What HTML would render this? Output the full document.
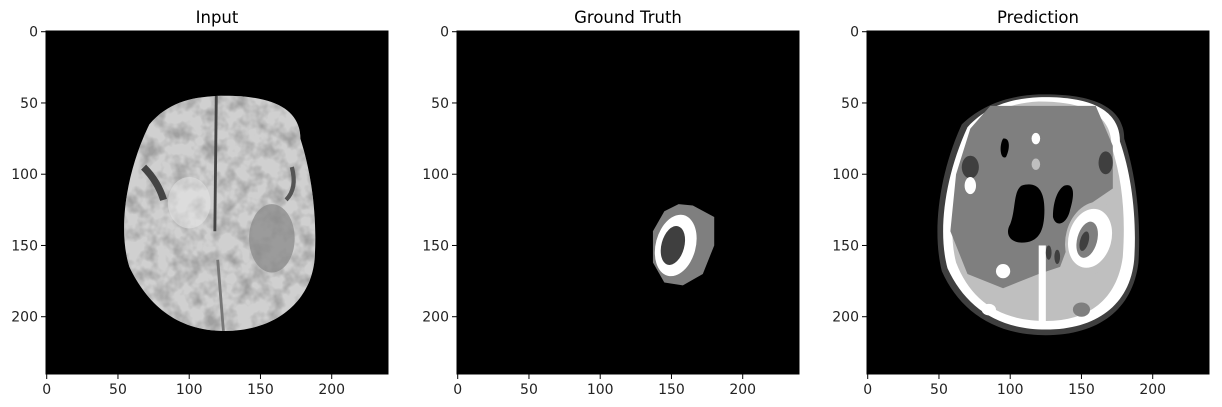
<!DOCTYPE html>
<html><head><meta charset="utf-8"><style>
body{margin:0;background:#fff;}
svg{display:block;font-family:"DejaVu Sans","Liberation Sans",sans-serif;}
</style></head><body>
<svg id="fig" width="1222" height="407" viewBox="0 0 1222 407" xmlns="http://www.w3.org/2000/svg">
<defs>
<clipPath id="brainIn"><path d="M120 45 C160 44 178 55 178 75 C186 100 190 130 188 160 C185 190 160 210 125 210 C90 210 70 190 58 165 C50 140 55 100 72 65 C85 50 100 46 120 45 Z"/></clipPath>
<filter id="tex"><feTurbulence type="fractalNoise" baseFrequency="0.09" numOctaves="3" seed="5"/><feColorMatrix type="matrix" values="0 0 0 0 0.35  0 0 0 0 0.35  0 0 0 0 0.35  0 0 0 -2.4 1.45"/></filter>
</defs>
</svg>
<script>
const panelTitles=["Input","Ground Truth","Prediction"];
const xTicks=[0,50,100,150,200];
const yTicks=[0,50,100,150,200];
const imgSize=240;
const panelX=[46,457,867];
const top0=31, S=342/240;
const svg=document.getElementById('fig');
const NS='http://www.w3.org/2000/svg';
function mk(t,a,p){const e=document.createElementNS(NS,t);for(const k in a)e.setAttribute(k,a[k]);(p||svg).appendChild(e);return e;}
const contents=[
`<path d="M120 45 C160 44 178 55 178 75 C186 100 190 130 188 160 C185 190 160 210 125 210 C90 210 70 190 58 165 C50 140 55 100 72 65 C85 50 100 46 120 45 Z" fill="#d0d0d0"/>
<g clip-path="url(#brainIn)"><rect x="40" y="40" width="160" height="180" filter="url(#tex)"/>
<ellipse cx="158" cy="145" rx="16" ry="24" fill="#8a8a8a" opacity="0.75"/>
<line x1="119" y1="45" x2="118" y2="140" stroke="#444" stroke-width="2"/>
<line x1="120" y1="160" x2="124" y2="210" stroke="#777" stroke-width="2"/>
<path d="M68 95 Q78 105 82 118" stroke="#444" stroke-width="5" fill="none"/>
<path d="M172 95 Q176 110 168 118" stroke="#555" stroke-width="3" fill="none"/>
<ellipse cx="100" cy="120" rx="15" ry="18" fill="#e8e8e8" opacity="0.5"/></g>`,
`<path d="M155 121 L165 122 L180 130 L180 150 L172 170 L158 178 L145 176 L137 162 L137 140 L145 126 Z" fill="#7f7f7f"/>
<ellipse cx="153" cy="150" rx="14" ry="22" transform="rotate(15 153 150)" fill="#fff"/>
<ellipse cx="151" cy="150" rx="8" ry="14" transform="rotate(15 151 150)" fill="#3f3f3f"/>`,
`<path d="M120 44 C162 43 180 55 180 75 C188 100 192 130 190 162 C186 195 162 213 125 213 C88 213 64 195 52 168 C45 140 50 100 66 65 C82 50 100 45 120 44 Z" fill="#3f3f3f"/>
<path d="M120 46 C160 45 177 57 177 77 C185 100 189 130 187 160 C184 192 160 209 125 209 C90 209 68 192 56 166 C49 140 54 102 70 67 C84 52 100 47 120 46 Z" fill="#fff"/>
<path d="M120 49 C156 49 171 60 171 80 C179 105 181 130 179 158 C175 188 155 203 125 203 C92 203 72 188 62 162 C56 138 60 104 74 70 C86 56 100 50 120 49 Z" fill="#bfbfbf"/>
<path d="M86 52 L160 52 L172 80 L172 110 L150 125 L135 165 L120 170 L95 180 L70 170 L58 140 L62 100 L72 68 Z" fill="#7f7f7f"/>
<path d="M108 108 C118 105 124 110 124 125 C124 140 120 148 108 148 C100 148 96 142 100 135 C104 125 102 112 108 108 Z" fill="#000"/>
<path d="M138 108 C144 106 146 112 142 125 C140 135 132 138 130 130 C130 118 134 110 138 108 Z" fill="#000"/>
<path d="M95 75 C100 74 100 82 97 88 C93 90 92 80 95 75 Z" fill="#000"/>
<ellipse cx="72" cy="95" rx="6" ry="8" fill="#3f3f3f"/>
<ellipse cx="167" cy="92" rx="5" ry="8" fill="#3f3f3f"/>
<ellipse cx="72" cy="108" rx="4" ry="6" fill="#fff"/>
<ellipse cx="118" cy="75" rx="3" ry="4" fill="#fff"/>
<ellipse cx="118" cy="93" rx="3" ry="4" fill="#bfbfbf"/>
<ellipse cx="158" cy="145" rx="19" ry="26" transform="rotate(15 158 145)" fill="#bfbfbf"/>
<ellipse cx="156" cy="145" rx="15" ry="21" transform="rotate(15 156 145)" fill="#fff"/>
<ellipse cx="154" cy="146" rx="7" ry="13" transform="rotate(15 154 146)" fill="#7f7f7f"/>
<ellipse cx="152" cy="147" rx="3" ry="7" transform="rotate(15 152 147)" fill="#3f3f3f"/>
<rect x="120" y="150" width="5" height="55" fill="#fff"/>
<ellipse cx="127" cy="155" rx="2" ry="5" fill="#3f3f3f"/>
<ellipse cx="133" cy="158" rx="2" ry="5" fill="#3f3f3f"/>
<ellipse cx="95" cy="168" rx="5" ry="5" fill="#fff"/>
<ellipse cx="85" cy="195" rx="5" ry="4" fill="#fff"/>
<ellipse cx="150" cy="195" rx="6" ry="5" fill="#7f7f7f"/>`
];
panelTitles.forEach((t,i)=>{
  const X=panelX[i];
  const g=mk('g',{transform:`translate(${X},${top0})`});
  
  
  const bg=mk('rect',{x:0,y:0,width:342,height:343,fill:'#000'},g);
  
  
  const img=mk('g',{transform:`scale(${S}) translate(0.5,0.5)`},g);
  
  
  img.innerHTML=contents[i];
  const fr=mk('rect',{x:0,y:0,width:342,height:343,fill:'none',stroke:'#000','stroke-width':1},g);
  
  
  const tt=mk('text',{x:171,y:-8,'text-anchor':'middle','font-size':16.5,fill:'#000'},g);
  tt.textContent=t;
  
  
  xTicks.forEach(v=>{
    const px=(v+0.5)*S;
    const l=mk('line',{x1:px,y1:343,x2:px,y2:348,stroke:'#000'},g);
    
    
    const tx=mk('text',{x:px,y:363,'text-anchor':'middle','font-size':14,fill:'#222'},g);
    tx.textContent=v;
    
    
  });
  yTicks.forEach(v=>{
    const py=(v+0.5)*S;
    const l=mk('line',{x1:-5,y1:py,x2:0,y2:py,stroke:'#000'},g);
    
    
    const tx=mk('text',{x:-8,y:py+5,'text-anchor':'end','font-size':14,fill:'#222'},g);
    tx.textContent=v;
    
    
  });
});
</script>
</body></html>
